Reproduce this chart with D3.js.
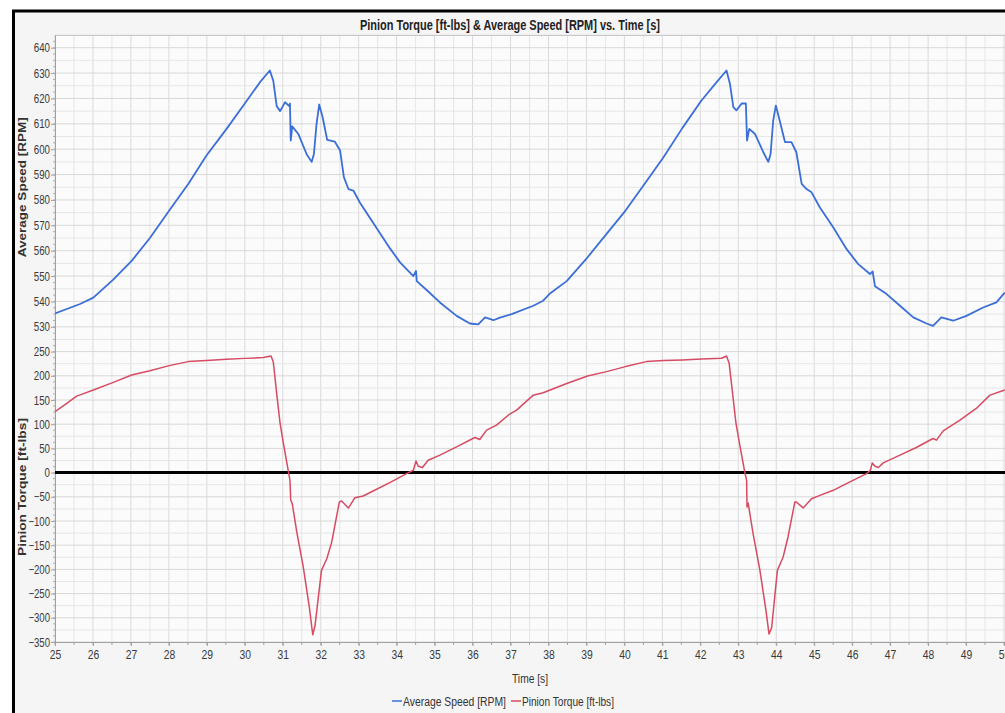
<!DOCTYPE html>
<html><head><meta charset="utf-8">
<script src="https://cdn.jsdelivr.net/npm/d3@7/dist/d3.min.js"></script>
<style>
html,body{margin:0;padding:0;background:#fff;}
svg{display:block;}
text{font-family:"Liberation Sans Narrow","Arial Narrow","Liberation Sans",sans-serif;}
</style></head>
<body>
<svg id="c" width="1005" height="713"></svg>
<script>
// ---- data ----
const title = "Pinion Torque [ft-lbs] & Average Speed [RPM] vs. Time [s]";
const xTicks = [25,26,27,28,29,30,31,32,33,34,35,36,37,38,39,40,41,42,43,44,45,46,47,48,49,50];
const speedTicks = [530,540,550,560,570,580,590,600,610,620,630,640];
const torqueTicks = [-350,-300,-250,-200,-150,-100,-50,0,50,100,150,200,250];

const speedTime = [25.0,25.66,26.01,26.52,26.89,27.02,27.5,28.01,28.51,28.99,29.52,30.0,30.4,30.66,30.75,30.84,30.93,31.06,31.17,31.19,31.21,31.25,31.41,31.63,31.76,31.82,31.89,31.96,32.05,32.17,32.37,32.51,32.61,32.73,32.86,33.03,33.38,33.82,34.09,34.44,34.51,34.53,34.79,35.14,35.58,35.93,36.15,36.33,36.55,36.72,37.03,37.6,37.86,38.03,38.48,39.03,39.53,40.03,40.53,41.03,41.53,42.03,42.43,42.69,42.78,42.87,42.95,43.09,43.2,43.23,43.29,43.44,43.66,43.79,43.85,43.92,43.99,44.09,44.23,44.4,44.53,44.67,44.8,44.93,45.15,45.5,45.85,46.16,46.47,46.54,46.6,46.9,47.26,47.61,47.96,48.13,48.35,48.66,49.01,49.45,49.8,50.02];
const speedValues = [535.3,539,541.5,548.4,554,556,565,575.8,586.3,597.5,608,618,626.4,631,627,617,615,618.5,617,618,603.4,609,606,598,595,598,610,617.6,612.6,603.7,603,599.5,589,584.3,583.7,579,571,561,555.4,550,552,548,544.5,539.6,534.3,531.3,531,533.7,532.6,533.6,535,538.3,540.3,543,548,557.4,566.6,575.8,586.3,596.8,608.4,619.2,626.4,631,625.8,616.6,615.3,618,618,603.4,608,606,598.8,595,598,611.3,617.2,611.3,602.8,602.8,598.8,586.3,584.3,583,577,569.2,560.7,554.7,550.8,551.8,546,543,538.3,533.7,531.3,530.4,533.7,532.4,534.3,537.6,539.6,543.5];

const torqueTime = [25.0,25.31,25.57,25.7,26.01,26.52,27.02,27.5,28.01,28.51,28.99,29.52,30.0,30.49,30.69,30.75,30.84,30.93,31.01,31.15,31.19,31.21,31.25,31.37,31.54,31.7,31.79,31.85,32.02,32.16,32.29,32.49,32.55,32.73,32.9,33.12,33.38,33.82,34.26,34.44,34.51,34.57,34.68,34.83,35.14,35.58,36.06,36.19,36.37,36.63,36.98,37.16,37.6,37.86,38.48,39.03,39.53,40.03,40.58,41.03,41.53,42.03,42.56,42.69,42.76,42.85,42.94,43.04,43.17,43.22,43.23,43.26,43.39,43.57,43.73,43.81,43.88,44.03,44.18,44.31,44.49,44.53,44.71,44.93,45.15,45.5,45.94,46.38,46.48,46.53,46.6,46.69,46.82,47.26,47.69,48.13,48.22,48.4,48.84,49.27,49.63,50.02];
const torqueValues = [125.7,143,158,161.6,170.6,185.8,201.7,210.6,221,229.3,231.4,234,236,237.6,241,229,163.7,101.5,63.5,1.4,-16,-57,-64,-123,-195,-278,-335,-316,-202,-178,-143.6,-60.8,-58.7,-73.2,-51.8,-48.3,-38,-20.7,-2,4.8,24,13,10.4,25.6,36,53,72.5,68.4,87.7,98,121,129,160,165,184,199.6,208.6,219,229.3,231.4,232.7,234.8,236.2,241,225.8,163.7,101.5,56.6,1.4,-16,-71,-63,-126,-202,-285,-333.6,-320,-202,-175,-133,-60.8,-60.8,-73,-54,-47,-36.6,-19.3,-2,4.8,20,13,10.4,20,36,51.8,70.4,67,86.3,108.4,132.6,160,170.6];

// ---- layout ----
const svg = d3.select("#c");
const L = 55, R = 1004, T = 35, MID = 339.5, B = 642;
const CH = 5.4; // condensed char width used to narrow labels

svg.append("rect").attr("x",0).attr("y",0).attr("width",1005).attr("height",713).attr("fill","#ffffff");
svg.append("rect").attr("x",13).attr("y",11).attr("width",1000).attr("height",710).attr("fill","#f5f5f5");
svg.append("line").attr("x1",13.5).attr("x2",13.5).attr("y1",10).attr("y2",713).attr("stroke","#000").attr("stroke-width",3);
svg.append("line").attr("x1",12).attr("x2",1005).attr("y1",11).attr("y2",11).attr("stroke","#000").attr("stroke-width",3);

const x = d3.scaleLinear().domain([25,50]).range([L,R]);
const yS = d3.scaleLinear().domain([525,645]).range([MID,T]);
const yT = d3.scaleLinear().domain([-350,275]).range([B,MID]);

svg.append("rect").attr("x",L).attr("y",T).attr("width",R-L+5).attr("height",B-T).attr("fill","#fbfbfb");

const g = svg.append("g");
const vgrid = d3.range(25,50.01,0.5);
g.selectAll(".vg").data(vgrid).enter().append("line")
  .attr("x1",d=>x(d)).attr("x2",d=>x(d)).attr("y1",T).attr("y2",B)
  .attr("stroke",d=>Number.isInteger(d)?"#dadada":"#e6e6e6").attr("stroke-width",1);
g.selectAll(".hs").data(d3.range(525,645.01,5)).enter().append("line")
  .attr("x1",L).attr("x2",R+5).attr("y1",d=>yS(d)).attr("y2",d=>yS(d))
  .attr("stroke",d=>d%10===0?"#d8d8d8":"#e6e6e6");
g.selectAll(".ht").data(d3.range(-350,275.01,25)).enter().append("line")
  .attr("x1",L).attr("x2",R+5).attr("y1",d=>yT(d)).attr("y2",d=>yT(d))
  .attr("stroke",d=>d%50===0?"#d8d8d8":"#e6e6e6");
svg.append("line").attr("x1",L).attr("x2",1005).attr("y1",T+0.5).attr("y2",T+0.5).attr("stroke","#c8c8c8");

function styleAxis(sel){
  sel.select(".domain").attr("stroke","#a0a0a0");
  sel.selectAll(".tick line").attr("stroke","#a0a0a0");
  sel.selectAll(".tick text").attr("fill","#3a3a3a").style("font-size","12.5px")
    .attr("textLength",function(){ const s=this.textContent; return s.length*CH - (s[0]==="-"?1.5:0); })
    .attr("lengthAdjust","spacingAndGlyphs");
}
const axS = svg.append("g").attr("transform",`translate(${L},0)`)
  .call(d3.axisLeft(yS).tickValues(speedTicks).tickSize(4).tickSizeOuter(0).tickPadding(1));
styleAxis(axS);
const axT = svg.append("g").attr("transform",`translate(${L},0)`)
  .call(d3.axisLeft(yT).tickValues(torqueTicks).tickSize(4).tickSizeOuter(0).tickPadding(1));
styleAxis(axT);
svg.selectAll(".mts").data(d3.range(525,645,2.5)).enter().append("line")
  .attr("x1",L-2).attr("x2",L).attr("y1",d=>yS(d)).attr("y2",d=>yS(d)).attr("stroke","#b0b0b0");
svg.selectAll(".mtt").data(d3.range(-350,275,12.5)).enter().append("line")
  .attr("x1",L-2).attr("x2",L).attr("y1",d=>yT(d)).attr("y2",d=>yT(d)).attr("stroke","#b0b0b0");

const axX = svg.append("g").attr("transform",`translate(0,${B})`)
  .call(d3.axisBottom(x).tickValues(xTicks).tickSize(4).tickSizeOuter(0).tickPadding(4).tickFormat(d3.format("d")));
styleAxis(axX);
axX.selectAll(".tick text").style("font-size","13px").attr("textLength",11.5);
svg.selectAll(".mtx").data(d3.range(25,50.01,0.5)).enter().append("line")
  .attr("x1",d=>x(d)).attr("x2",d=>x(d)).attr("y1",B).attr("y2",B+3).attr("stroke","#a0a0a0");

svg.append("line").attr("x1",L).attr("x2",1005).attr("y1",yT(0)).attr("y2",yT(0)).attr("stroke","#000").attr("stroke-width",3);

svg.append("clipPath").attr("id","pc").append("rect").attr("x",L).attr("y",T).attr("width",R-L+5).attr("height",B-T);
const lineS = d3.line().x((d,i)=>x(speedTime[i])).y(d=>yS(d));
const lineT = d3.line().x((d,i)=>x(torqueTime[i])).y(d=>yT(d));
svg.append("path").datum(speedValues).attr("d",lineS).attr("fill","none").attr("stroke","#3b6fd6").attr("stroke-width",1.8).attr("stroke-linejoin","round").attr("clip-path","url(#pc)");
svg.append("path").datum(torqueValues).attr("d",lineT).attr("fill","none").attr("stroke","#d64b62").attr("stroke-width",1.5).attr("stroke-linejoin","round").attr("clip-path","url(#pc)");

svg.append("text").attr("x",510).attr("y",30).attr("text-anchor","middle")
  .attr("font-weight","bold").style("font-size","14px").attr("fill","#222")
  .attr("textLength",300).attr("lengthAdjust","spacingAndGlyphs").text(title);
svg.append("text").attr("transform",`translate(26,${(T+MID)/2}) rotate(-90)`).attr("text-anchor","middle")
  .style("font-family","'Liberation Sans',Arial,sans-serif").style("font-size","11px").attr("font-weight","bold").attr("fill","#333")
  .attr("textLength",140).attr("lengthAdjust","spacingAndGlyphs").text("Average Speed [RPM]");
svg.append("text").attr("transform",`translate(26,487) rotate(-90)`).attr("text-anchor","middle")
  .style("font-family","'Liberation Sans',Arial,sans-serif").style("font-size","11px").attr("font-weight","bold").attr("fill","#333")
  .attr("textLength",138).attr("lengthAdjust","spacingAndGlyphs").text("Pinion Torque [ft-lbs]");
svg.append("text").attr("x",530).attr("y",683).attr("text-anchor","middle").style("font-size","13px").attr("fill","#333")
  .attr("textLength",36).attr("lengthAdjust","spacingAndGlyphs").text("Time [s]");

const legend = [{name:"Average Speed [RPM]",color:"#3b6fd6",x:392,w:103},{name:"Pinion Torque [ft-lbs]",color:"#d64b62",x:511,w:92}];
const lg = svg.selectAll(".lg").data(legend).enter().append("g");
lg.append("line").attr("x1",d=>d.x).attr("x2",d=>d.x+10).attr("y1",701).attr("y2",701).attr("stroke",d=>d.color).attr("stroke-width",1.5);
lg.append("text").attr("x",d=>d.x+11).attr("y",705.5).style("font-size","12.5px").attr("fill","#333")
  .attr("textLength",d=>d.w).attr("lengthAdjust","spacingAndGlyphs").text(d=>d.name);
</script>
</body></html>
